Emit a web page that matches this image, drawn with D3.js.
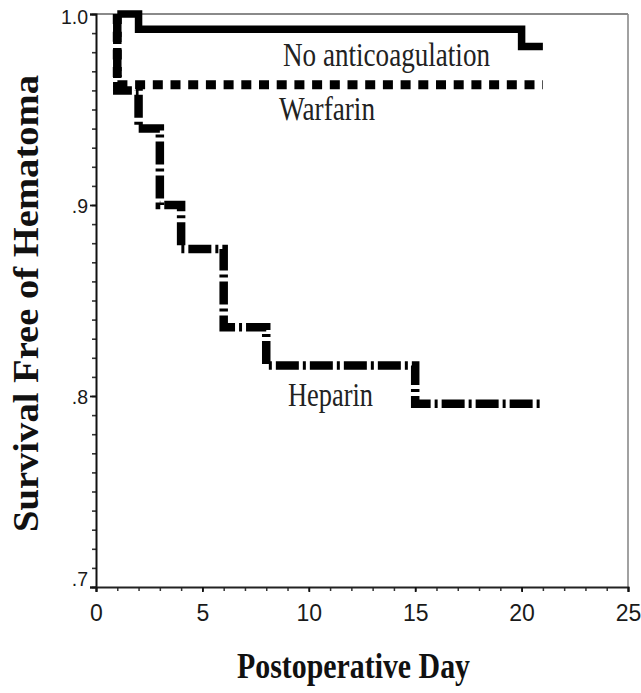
<!DOCTYPE html>
<html>
<head>
<meta charset="utf-8">
<script src="https://cdn.jsdelivr.net/npm/d3@7/dist/d3.min.js"></script>
<style>
  html, body { margin: 0; padding: 0; background: #fff; }
  svg { display: block; }
</style>
</head>
<body>
<svg id="chart" width="641" height="693"></svg>
<script>
// ---- Data ----
const noAnticoagDays = [1, 2, 20, 21];
const noAnticoagSurv = [1.0, 0.992, 0.983, 0.983];

const warfarinDays = [1, 1, 21];
const warfarinSurv = [1.0, 0.963, 0.963];

const heparinDays = [1, 1, 2, 3, 4, 6, 8, 15, 21];
const heparinSurv = [1.0, 0.960, 0.940, 0.900, 0.877, 0.836, 0.816, 0.796, 0.796];

const seriesNames = ["No anticoagulation", "Warfarin", "Heparin"];

const xTickValues = [0, 5, 10, 15, 20, 25];
const yTickValues = [1.0, 0.9, 0.8, 0.7];
const yTickLabels = ["1.0", ".9", ".8", ".7"];

const xTitle = "Postoperative Day";
const yTitle = "Survival Free of Hematoma";

// ---- Layout ----
const svg = d3.select("#chart");
const x = d3.scaleLinear().domain([0, 25]).range([96, 628]);
const y = d3.scaleLinear().domain([0.7, 1.0]).range([587, 14]);

// frame (top and right)
svg.append("line").attr("x1", x(0)).attr("x2", x(25)).attr("y1", y(1.0)).attr("y2", y(1.0))
  .attr("stroke", "#8a8a8a").attr("stroke-width", 2);
svg.append("line").attr("x1", x(25)).attr("x2", x(25)).attr("y1", y(1.0)).attr("y2", y(0.7))
  .attr("stroke", "#8a8a8a").attr("stroke-width", 1.6);

// y axis: minor ticks
const yMinor = d3.range(70, 101).map(d => d / 100);
svg.append("g").attr("transform", `translate(${x(0)},0)`)
  .call(d3.axisLeft(y).tickValues(yMinor).tickSize(4).tickFormat(""))
  .call(g => g.select(".domain").remove())
  .call(g => g.selectAll("line").attr("stroke", "#333").attr("stroke-width", 1.6));

// y axis: major ticks + labels
const yAxisG = svg.append("g").attr("transform", `translate(${x(0)},0)`)
  .call(d3.axisLeft(y).tickValues(yTickValues).tickSize(6).tickPadding(2)
    .tickFormat((d, i) => yTickLabels[i]));
yAxisG.select(".domain").attr("stroke", "#111").attr("stroke-width", 2);
yAxisG.selectAll("line").attr("stroke", "#111").attr("stroke-width", 1.8);
yAxisG.selectAll("text")
  .attr("font-family", "'Liberation Sans', Arial, sans-serif")
  .attr("font-size", 19.5).attr("fill", "#1a1a1a")
  .attr("dy", (d) => d === 1.0 ? "0.48em" : (d === 0.7 ? "-0.08em" : "0.36em"));

// x axis: minor ticks
svg.append("g").attr("transform", `translate(0,${y(0.7)})`)
  .call(d3.axisBottom(x).tickValues(d3.range(0, 26)).tickSize(4).tickFormat(""))
  .call(g => g.select(".domain").remove())
  .call(g => g.selectAll("line").attr("stroke", "#333").attr("stroke-width", 1.5));

// x axis: major ticks + labels
const xAxisG = svg.append("g").attr("transform", `translate(0,${y(0.7)})`)
  .call(d3.axisBottom(x).tickValues(xTickValues).tickSize(5).tickPadding(13)
    .tickFormat(d3.format("d")));
xAxisG.select(".domain").attr("stroke", "#222").attr("stroke-width", 2);
xAxisG.selectAll("line").attr("stroke", "#111").attr("stroke-width", 1.8);
xAxisG.selectAll("text")
  .attr("font-family", "'Liberation Sans', Arial, sans-serif")
  .attr("font-size", 23).attr("fill", "#1a1a1a");

// ---- Curves ----
const line = d3.line().curve(d3.curveStepAfter).x(d => x(d[0])).y(d => y(d[1]));
const zip = (a, b) => a.map((v, i) => [v, b[i]]);

svg.append("path").datum(zip(heparinDays, heparinSurv))
  .attr("d", line).attr("fill", "none").attr("stroke", "#000")
  .attr("stroke-width", 8.5).attr("stroke-dasharray", "23,4,3,4")
  .attr("stroke-linecap", "butt").attr("stroke-linejoin", "miter");

svg.append("path").datum(zip(warfarinDays, warfarinSurv))
  .attr("d", line).attr("fill", "none").attr("stroke", "#000")
  .attr("stroke-width", 9).attr("stroke-dasharray", "10,7.7")
  .attr("stroke-linecap", "butt").attr("stroke-linejoin", "miter");

svg.append("path").datum(zip(noAnticoagDays, noAnticoagSurv))
  .attr("d", line).attr("fill", "none").attr("stroke", "#000")
  .attr("stroke-width", 7.5)
  .attr("stroke-linecap", "butt").attr("stroke-linejoin", "miter");

// ---- Series labels ----
const serif = "'Liberation Serif', 'Times New Roman', serif";
const labelSpecs = [
  { name: seriesNames[0], x: 283, y: 66, len: 207 },
  { name: seriesNames[1], x: 279, y: 120, len: 96 },
  { name: seriesNames[2], x: 288, y: 406, len: 85 }
];
svg.selectAll("text.series").data(labelSpecs).enter().append("text")
  .attr("class", "series")
  .attr("x", d => d.x).attr("y", d => d.y)
  .attr("font-family", serif).attr("font-size", 34).attr("fill", "#222")
  .attr("textLength", d => d.len).attr("lengthAdjust", "spacingAndGlyphs")
  .text(d => d.name);

// ---- Axis titles ----
svg.append("text")
  .attr("x", 237).attr("y", 678)
  .attr("font-family", serif).attr("font-weight", "bold").attr("font-size", 35)
  .attr("fill", "#111")
  .attr("textLength", 233).attr("lengthAdjust", "spacingAndGlyphs")
  .text(xTitle);

svg.append("text")
  .attr("transform", "translate(38,532) rotate(-90)")
  .attr("x", 0).attr("y", 0)
  .attr("font-family", serif).attr("font-weight", "bold").attr("font-size", 35)
  .attr("fill", "#111")
  .attr("textLength", 457).attr("lengthAdjust", "spacingAndGlyphs")
  .text(yTitle);
</script>
</body>
</html>
